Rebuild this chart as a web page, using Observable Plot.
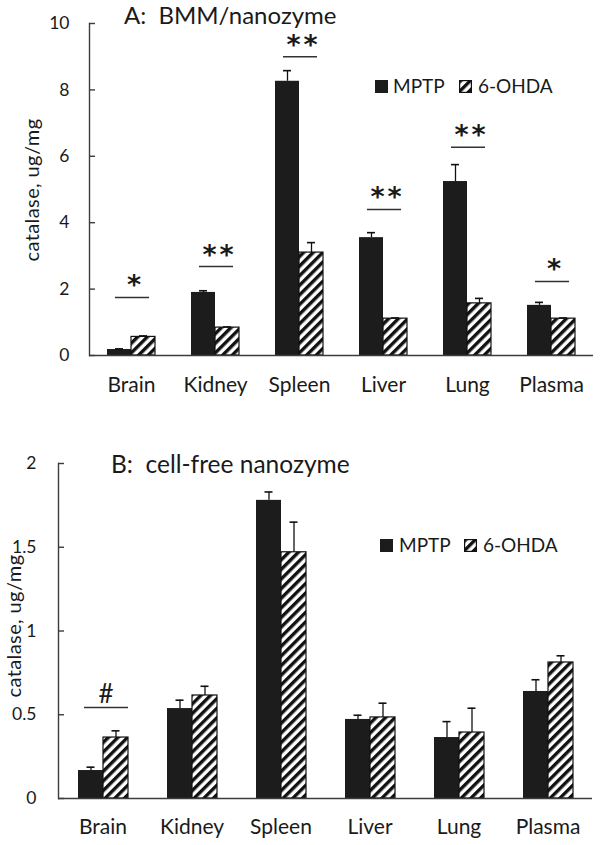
<!DOCTYPE html>
<html>
<head>
<meta charset="utf-8">
<script src="https://cdn.jsdelivr.net/npm/d3@7"></script>
<script src="https://cdn.jsdelivr.net/npm/@observablehq/plot@0.6"></script>
<style>
  html, body { margin: 0; padding: 0; background: #fff; }
  #root { position: relative; width: 600px; height: 845px; background: #fff; font-family: Lato, "Open Sans", sans-serif; color: #1a1a1a; overflow: hidden; }
  .abs { position: absolute; white-space: nowrap; line-height: 1; }
  .panel { position: absolute; left: 0; }
  .ylab { position: absolute; white-space: nowrap; line-height: 1; transform: translate(-50%, -50%) rotate(-90deg); font-size: 20px; letter-spacing: 0.4px; }
</style>
</head>
<body>
<div id="root"></div>
<script>
// ---------- data ----------
const organs = ["Brain", "Kidney", "Spleen", "Liver", "Lung", "Plasma"];
const seriesNames = ["MPTP", "6-OHDA"];

// Panel A: BMM/nanozyme
const yTicksA = [0, 2, 4, 6, 8, 10];
const mptpA    = [0.18, 1.90, 8.26, 3.55, 5.24, 1.51];
const mptpAErr = [0.02, 0.05, 0.32, 0.15, 0.51, 0.09];
const ohdaA    = [0.56, 0.84, 3.10, 1.11, 1.57, 1.11];
const ohdaAErr = [0.03, 0.02, 0.30, 0.02, 0.15, 0.02];
const sigAOrgan = ["Brain", "Kidney", "Spleen", "Liver", "Lung", "Plasma"];
const sigAY     = [1.75, 2.68, 9.0, 4.40, 6.27, 2.23];
const sigALabel = ["*", "**", "**", "**", "**", "*"];

// Panel B: cell-free nanozyme
const yTicksB = [0, 0.5, 1, 1.5, 2];
const mptpB    = [0.167, 0.537, 1.78, 0.472, 0.364, 0.639];
const mptpBErr = [0.02, 0.05, 0.05, 0.025, 0.095, 0.07];
const ohdaB    = [0.364, 0.615, 1.47, 0.484, 0.394, 0.812];
const ohdaBErr = [0.04, 0.055, 0.18, 0.085, 0.145, 0.04];
const sigBOrgan = ["Brain"];
const sigBY     = [0.543];
const sigBLabel = ["#"];

// ---------- helpers ----------
function rows(m, me, o, oe) {
  const out = [];
  organs.forEach((org, i) => {
    out.push({organ: org, series: seriesNames[0], value: m[i], err: me[i]});
    out.push({organ: org, series: seriesNames[1], value: o[i], err: oe[i]});
  });
  return out;
}
function sigRows(orgs, ys, labels) {
  return orgs.map((o, i) => ({organ: o, y: ys[i], label: labels[i]}));
}
const NS = "http://www.w3.org/2000/svg";
function hatchDef(id) {
  return `<pattern id="${id}" patternUnits="userSpaceOnUse" width="6.8" height="6.8" patternTransform="rotate(45)">` +
         `<rect width="6.8" height="6.8" fill="#fff"/><rect width="3.4" height="6.8" fill="#111"/></pattern>`;
}
function addDefs(svg, id) {
  const defs = document.createElementNS(NS, "defs");
  defs.innerHTML = hatchDef(id);
  svg.insertBefore(defs, svg.firstChild);
}

function panel(cfg) {
  const data = rows(cfg.m, cfg.me, cfg.o, cfg.oe);
  const sig = sigRows(cfg.sigOrg, cfg.sigY, cfg.sigLab);
  const axisColor = "#3c3c3c";
  const svg = Plot.plot({
    width: 600,
    height: cfg.height,
    marginLeft: cfg.ml, marginRight: cfg.mr, marginTop: cfg.mt, marginBottom: cfg.mb,
    style: {fontFamily: "Lato, 'Open Sans', sans-serif", background: "white", color: "#1a1a1a", overflow: "visible"},
    fx: {domain: organs, padding: 0, label: null},
    x: {domain: seriesNames, axis: null, paddingInner: 0, paddingOuter: cfg.outer},
    y: {domain: cfg.ydom, label: null},
    marks: [
      Plot.barY(data, {fx: "organ", x: "series", y: "value", filter: d => d.series === "MPTP", fill: "#1c1c1c"}),
      Plot.barY(data, {fx: "organ", x: "series", y: "value", filter: d => d.series === "6-OHDA", fill: `url(#${cfg.hid})`, stroke: "#111", strokeWidth: 1.2}),
      Plot.ruleX(data, {fx: "organ", x: "series", y1: "value", y2: d => d.value + d.err, stroke: "#111", strokeWidth: 1.3}),
      Plot.tickY(data, {fx: "organ", x: "series", y: d => d.value + d.err, stroke: "#111", strokeWidth: 1.6, insetLeft: cfg.capInset, insetRight: cfg.capInset}),
      Plot.ruleY(sig, {fx: "organ", y: "y", stroke: "#333", strokeWidth: 1.5, insetLeft: cfg.sigInsetL, insetRight: cfg.sigInsetR}),
      Plot.text(sig, {fx: "organ", y: "y", text: "label", frameAnchor: "middle", lineAnchor: "bottom", dx: cfg.sigDx, dy: cfg.sigDy, fontSize: cfg.sigSize, fontFamily: cfg.sigFont, fontWeight: cfg.sigWeight, fill: "#1a1a1a", className: "sigtext"}),
      Plot.ruleY([0], {stroke: axisColor, strokeWidth: 1.4}),
      Plot.frame({anchor: "left", facetAnchor: "left", stroke: axisColor, strokeWidth: 1.4}),
      Plot.axisY({ticks: cfg.yticks, tickFormat: d => String(d), tickSize: -6, tickPadding: cfg.tickPad + 6, fontSize: 17.5, stroke: axisColor, strokeWidth: 1.4, label: null, fill: "#1a1a1a"}),
      Plot.axisFx({anchor: "bottom", tickSize: 0, tickPadding: cfg.fxPad, fontSize: 21, label: null, fill: "#1a1a1a"})
    ]
  });
  addDefs(svg, cfg.hid);
  if (cfg.sigSpacing) {
    svg.querySelectorAll(".sigtext text").forEach(t => { t.style.letterSpacing = cfg.sigSpacing + "px"; });
  }
  return svg;
}

const root = document.getElementById("root");

const panelA = panel({
  height: 400, ml: 88, mr: 7, mt: 23, mb: 45, outer: 0.75,
  m: mptpA, me: mptpAErr, o: ohdaA, oe: ohdaAErr,
  sigOrg: sigAOrgan, sigY: sigAY, sigLab: sigALabel,
  ydom: [0, 10], yticks: yTicksA, tickPad: 20, fxPad: 22,
  hid: "hatchA", capInset: 8, sigInsetL: 26, sigInsetR: 24, sigDx: 4, sigDy: -3, sigSize: 27,
  sigFont: "'DejaVu Sans', sans-serif", sigWeight: "bold", sigSpacing: 3
});
const wrapA = document.createElement("div");
wrapA.className = "panel"; wrapA.style.top = "0px";
wrapA.appendChild(panelA);
root.appendChild(wrapA);

const panelB = panel({
  height: 445, ml: 57, mr: 8, mt: 63, mb: 47, outer: 0.78,
  m: mptpB, me: mptpBErr, o: ohdaB, oe: ohdaBErr,
  sigOrg: sigBOrgan, sigY: sigBY, sigLab: sigBLabel,
  ydom: [0, 2], yticks: yTicksB, tickPad: 22, fxPad: 21,
  hid: "hatchB", capInset: 8.5, sigInsetL: 26, sigInsetR: 19, sigDx: 3, sigDy: -5, sigSize: 26,
  sigFont: "Lato, sans-serif", sigWeight: "normal", sigSpacing: 0
});
const wrapB = document.createElement("div");
wrapB.className = "panel"; wrapB.style.top = "400px";
wrapB.appendChild(panelB);
root.appendChild(wrapB);

// ---------- titles, axis titles, legends ----------
function addText(txt, left, topPx, size, cls) {
  const d = document.createElement("div");
  d.className = cls || "abs";
  d.textContent = txt;
  d.style.left = left + "px";
  d.style.top = topPx + "px";
  if (size) d.style.fontSize = size + "px";
  root.appendChild(d);
  return d;
}
addText("A:  BMM/nanozyme", 124, 2.5, 24).style.whiteSpace = "pre";
addText("B:  cell-free nanozyme", 111, 452, 24.5).style.whiteSpace = "pre";
addText("catalase, ug/mg", 31, 190, null, "ylab");
addText("catalase, ug/mg", 13, 626, null, "ylab");

function swatch(left, topPx, hatched, id) {
  const s = document.createElementNS(NS, "svg");
  s.setAttribute("width", 13); s.setAttribute("height", 13);
  s.style.position = "absolute"; s.style.left = left + "px"; s.style.top = topPx + "px";
  if (hatched) {
    s.innerHTML = `<defs>${hatchDef(id)}</defs><rect x="0.6" y="0.6" width="11.8" height="11.8" fill="url(#${id})" stroke="#111" stroke-width="1.2"/>`;
  } else {
    s.innerHTML = `<rect x="0" y="0" width="13" height="13" fill="#1c1c1c"/>`;
  }
  root.appendChild(s);
}
// legend A
swatch(375, 80, false);
addText(seriesNames[0], 393, 76, 19);
swatch(459, 80, true, "hatchLA");
addText(seriesNames[1], 478, 76, 19);
// legend B
swatch(380, 539, false);
addText(seriesNames[0], 399, 535, 19);
swatch(464, 539, true, "hatchLB");
addText(seriesNames[1], 483, 535, 19);
</script>
</body>
</html>
